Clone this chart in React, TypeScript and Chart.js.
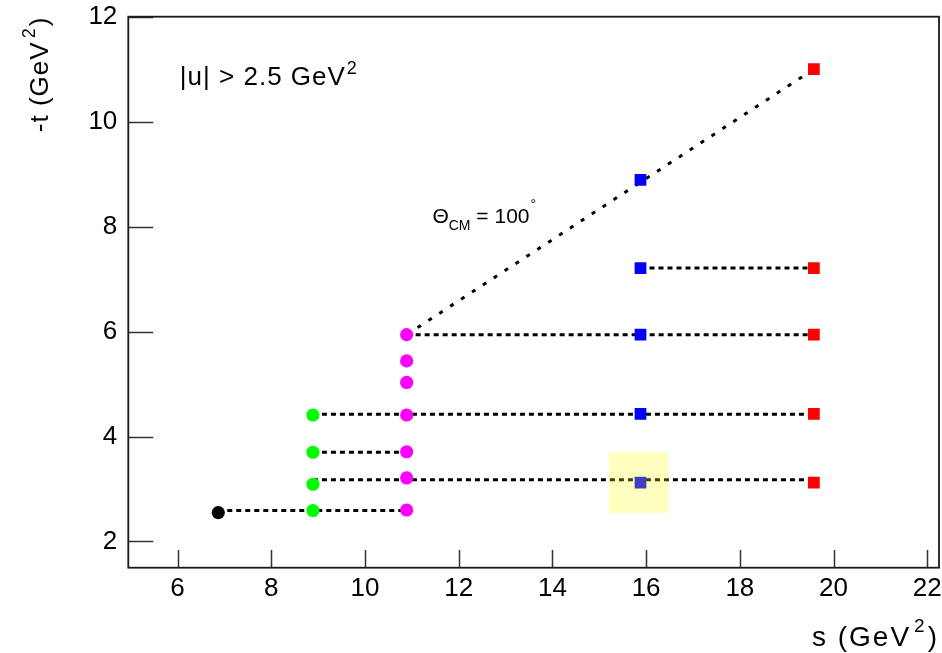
import React, { useEffect, useRef } from 'react';
import { Chart, registerables } from 'chart.js';

Chart.register(...registerables);

const FONT = '"Liberation Sans", Arial, Helvetica, sans-serif';

// ---- data (s in GeV^2, -t in GeV^2) ----
const S_BLACK = [6.87];
const T_BLACK = [2.55];
const S_GREEN = [8.89, 8.89, 8.89, 8.89];
const T_GREEN = [2.59, 3.09, 3.70, 4.41];
const S_MAGENTA = [10.89, 10.89, 10.89, 10.89, 10.89, 10.89, 10.89];
const T_MAGENTA = [2.60, 3.21, 3.71, 4.41, 5.03, 5.44, 5.94];
const S_BLUE = [15.88, 15.88, 15.88, 15.88, 15.88];
const T_BLUE = [3.12, 4.43, 5.94, 7.21, 8.89];
const S_RED = [19.58, 19.58, 19.58, 19.58, 19.58];
const T_RED = [3.12, 4.43, 5.94, 7.21, 11.0];

// horizontal dotted connectors
const LINE_T = [2.59, 3.175, 3.70, 4.425, 5.94, 7.21];
const LINE_S_FROM = [6.87, 8.89, 8.89, 8.89, 10.89, 15.88];
const LINE_S_TO = [10.89, 19.58, 10.89, 19.58, 19.58, 19.58];

// Theta_CM = 100 deg line
const THETA_S = [10.89, 19.58];
const THETA_T = [5.94, 11.0];

// highlighted cell
const HIGHLIGHT_S = [15.2, 16.48];
const HIGHLIGHT_T = [2.55, 3.7];

// axes
const S_RANGE = [4.95, 22.25];
const T_RANGE = [1.5, 12];
const X_TICKS = [6, 8, 10, 12, 14, 16, 18, 20, 22];
const Y_TICKS = [2, 4, 6, 8, 10, 12];

// annotation anchors (data coordinates)
const U_LABEL_AT = { s: 6.05, t: 10.7 };
const THETA_LABEL_AT = { s: 11.44, t: 8.07 };

type Piece = { text: string; size: number; dy: number; gap?: number };

function drawPieces(
  ctx: CanvasRenderingContext2D,
  pieces: Piece[],
  x: number,
  y: number,
  align: 'left' | 'right',
  spacing = 0
) {
  const c: any = ctx;
  c.letterSpacing = `${spacing}px`;
  const widths = pieces.map((p) => {
    ctx.font = `${p.size}px ${FONT}`;
    return ctx.measureText(p.text).width + (p.gap || 0);
  });
  const total = widths.reduce((a, b) => a + b, 0);
  let cx = align === 'right' ? x - total : x;
  ctx.textAlign = 'left';
  ctx.textBaseline = 'alphabetic';
  pieces.forEach((p, i) => {
    ctx.font = `${p.size}px ${FONT}`;
    ctx.fillText(p.text, cx + (p.gap || 0), y + p.dy);
    cx += widths[i];
  });
  c.letterSpacing = '0px';
}

const pts = (s: number[], t: number[]) => s.map((x, i) => ({ x, y: t[i] }));

const markerSet = (s: number[], t: number[], color: string, style: string, radius: number) => ({
  data: pts(s, t),
  showLine: false,
  pointStyle: style,
  pointRadius: radius,
  pointBackgroundColor: color,
  pointBorderColor: color,
  pointBorderWidth: 0,
  order: 0,
});

const lineSet = (s: number[], t: number[], dash: number[]) => ({
  data: pts(s, t),
  showLine: true,
  borderColor: '#000',
  borderWidth: 3,
  borderDash: dash,
  borderCapStyle: 'butt',
  pointRadius: 0,
  fill: false,
  order: 1,
});

const overlayPlugin = {
  id: 'rootOverlay',
  afterDatasetsDraw(chart: any) {
    const { ctx, chartArea: a, scales } = chart;
    const xs = scales.x;
    const ys = scales.y;
    ctx.save();
    // highlight box
    const hx0 = xs.getPixelForValue(HIGHLIGHT_S[0]);
    const hx1 = xs.getPixelForValue(HIGHLIGHT_S[1]);
    const hy0 = ys.getPixelForValue(HIGHLIGHT_T[1]);
    const hy1 = ys.getPixelForValue(HIGHLIGHT_T[0]);
    ctx.fillStyle = 'rgba(255,255,0,0.25)';
    ctx.fillRect(hx0, hy0, hx1 - hx0, hy1 - hy0);

    // ticks (inward)
    ctx.strokeStyle = '#333';
    ctx.lineWidth = 1.5;
    ctx.beginPath();
    X_TICKS.forEach((v) => {
      const px = Math.round(xs.getPixelForValue(v)) + 0.5;
      ctx.moveTo(px, a.bottom);
      ctx.lineTo(px, a.bottom - 17.7);
    });
    Y_TICKS.forEach((v) => {
      const py = Math.round(ys.getPixelForValue(v)) + 0.5;
      ctx.moveTo(a.left, py);
      ctx.lineTo(a.left + 25, py);
    });
    ctx.stroke();

    // frame
    ctx.strokeStyle = '#1a1a1a';
    ctx.lineWidth = 1.8;
    ctx.strokeRect(a.left, a.top, a.right - a.left, a.bottom - a.top);

    // texts
    ctx.fillStyle = '#000';
    drawPieces(
      ctx,
      [
        { text: '|u| > 2.5 GeV', size: 26, dy: 0 },
        { text: '2', size: 18, dy: -11, gap: 1 },
      ],
      xs.getPixelForValue(U_LABEL_AT.s),
      ys.getPixelForValue(U_LABEL_AT.t),
      'left',
      1
    );
    drawPieces(
      ctx,
      [
        { text: 'Θ', size: 21, dy: 0 },
        { text: 'CM', size: 14, dy: 7 },
        { text: ' = 100', size: 21, dy: 0 },
        { text: '°', size: 14, dy: -14, gap: 1 },
      ],
      xs.getPixelForValue(THETA_LABEL_AT.s),
      ys.getPixelForValue(THETA_LABEL_AT.t),
      'left'
    );

    // x title
    drawPieces(
      ctx,
      [
        { text: 's (GeV', size: 28, dy: 0 },
        { text: '2', size: 19, dy: -14, gap: 3 },
        { text: ')', size: 28, dy: 0, gap: 1 },
      ],
      a.right,
      646,
      'right',
      2
    );
    // y title (rotated)
    ctx.translate(48.3, a.top);
    ctx.rotate(-Math.PI / 2);
    drawPieces(
      ctx,
      [
        { text: '-t (GeV', size: 26, dy: 0 },
        { text: '2', size: 18, dy: -13, gap: 3 },
        { text: ')', size: 26, dy: 0, gap: 1 },
      ],
      0,
      0,
      'right',
      1
    );
    ctx.restore();
  },
};

export default function App() {
  const ref = useRef<HTMLCanvasElement | null>(null);
  useEffect(() => {
    if (!ref.current) return;
    Chart.defaults.font.family = FONT;
    const hLines = LINE_T.map((t, i) => lineSet([LINE_S_FROM[i], LINE_S_TO[i]], [t, t], [5, 4]));
    const chart = new Chart(ref.current, {
      type: 'scatter',
      data: {
        datasets: [
          markerSet(S_BLACK, T_BLACK, '#000000', 'circle', 6.6),
          markerSet(S_GREEN, T_GREEN, '#00ff00', 'circle', 6.6),
          markerSet(S_MAGENTA, T_MAGENTA, '#ff00ff', 'circle', 6.6),
          markerSet(S_BLUE, T_BLUE, '#0000ff', 'rect', 8.3),
          markerSet(S_RED, T_RED, '#ff0000', 'rect', 8.3),
          ...hLines,
          lineSet(THETA_S, THETA_T, [4, 9]),
        ] as any,
      },
      options: {
        animation: false,
        responsive: false,
        devicePixelRatio: 1,
        layout: { autoPadding: false, padding: { top: 16.7, right: 3, left: 0, bottom: 0 } },
        plugins: { legend: { display: false }, tooltip: { enabled: false } },
        scales: {
          x: {
            type: 'linear',
            min: S_RANGE[0],
            max: S_RANGE[1],
            afterBuildTicks: (s: any) => {
              s.ticks = X_TICKS.map((v) => ({ value: v }));
            },
            afterFit: (s: any) => {
              s.height = 85.3;
              s.paddingLeft = 0;
              s.paddingRight = 0;
            },
            ticks: {
              autoSkip: false,
              maxRotation: 0,
              padding: 6,
              color: '#000',
              font: { family: FONT, size: 26 },
            },
            grid: { display: false, drawTicks: false },
            border: { display: false },
            title: { display: false },
          },
          y: {
            type: 'linear',
            min: T_RANGE[0],
            max: T_RANGE[1],
            afterBuildTicks: (s: any) => {
              s.ticks = Y_TICKS.map((v) => ({ value: v }));
            },
            afterFit: (s: any) => {
              s.width = 128.3;
              s.paddingTop = 0;
              s.paddingBottom = 0;
            },
            ticks: {
              autoSkip: false,
              padding: 11,
              color: '#000',
              font: { family: FONT, size: 26 },
            },
            grid: { display: false, drawTicks: false },
            border: { display: false },
            title: { display: false },
          },
        },
      },
      plugins: [overlayPlugin],
    } as any);
    return () => chart.destroy();
  }, []);
  return (
    <div style={{ position: 'fixed', left: 0, top: 0, width: 942, height: 653, background: '#fff' }}>
      <canvas ref={ref} width={942} height={653} style={{ display: 'block' }} />
    </div>
  );
}
